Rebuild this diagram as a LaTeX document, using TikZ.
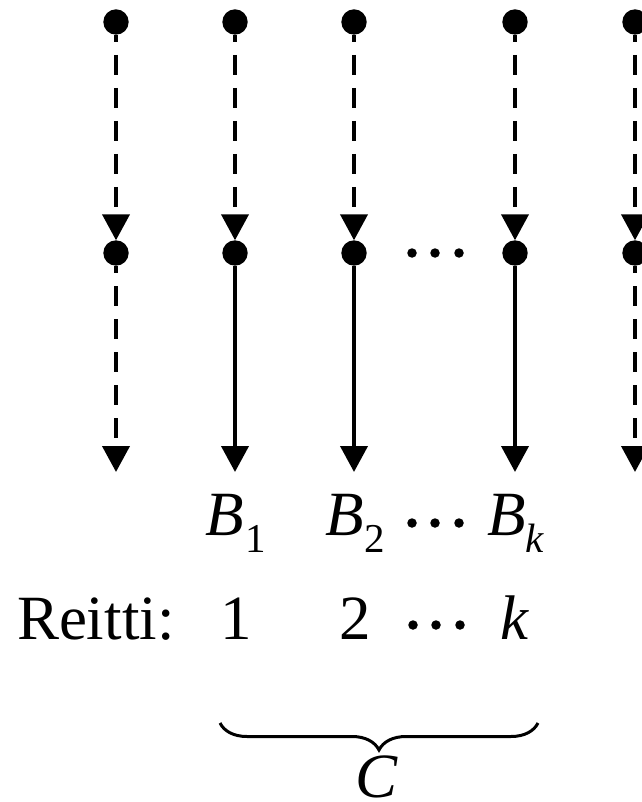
\documentclass[tikz,border=0pt]{standalone}
\usepackage{fontspec}
\setmainfont{Liberation Serif}
\usetikzlibrary{arrows.meta,decorations.pathreplacing}
\begin{document}
\begin{tikzpicture}[x=1pt,y=1pt,
  dot/.style={circle,fill=black,inner sep=0pt,outer sep=0pt,minimum size=25.4pt},
  edot/.style={circle,fill=black,inner sep=0pt,outer sep=0pt,minimum size=9.5pt},
  link/.style={line width=4pt,-{Triangle[width=27pt,length=26pt]}},
  dlink/.style={link,dash pattern=on 20pt off 13pt,dash phase=12.7pt},
  lbl/.style={inner sep=0pt,outer sep=0pt,font=\fontsize{63}{70}\selectfont},
  sublbl/.style={inner sep=0pt,outer sep=0pt,font=\fontsize{41}{44}\selectfont},
  bracestyle/.style={line width=3pt,decorate,decoration={brace,mirror,amplitude=27pt}},
]
\useasboundingbox (0,0) rectangle (641,-802);
% dots
\foreach \n/\x in {1/116,2/235,3/354,4/515,5/635}{
  \node[dot] (t\n) at (\x,-22) {};
  \node[dot] (m\n) at (\x,-253) {};
  \coordinate (b\n) at (\x,-472);
}
% top arrows
\foreach \n in {1,...,5}{ \draw[dlink] (t\n) -- (m\n); }
% bottom arrows
\draw[dlink] (m1) -- (b1);
\draw[link] (m2) -- (b2);
\draw[link] (m3) -- (b3);
\draw[link] (m4) -- (b4);
\draw[dlink] (m5) -- (b5);
% ellipses
\node[edot] (e1) at (412,-253) {};
\node[edot] (e2) at (435,-253) {};
\node[edot] (e3) at (459,-253) {};
% B labels
\node[lbl,anchor=base west] (B1) at (205,-535) {\itshape B};
\node[sublbl,anchor=base west] (s1) at (245,-552) {1};
\node[lbl,anchor=base west] (B2) at (325,-535) {\itshape B};
\node[sublbl,anchor=base west] (s2) at (364,-552) {2};
\node[edot] (f1) at (412,-523) {};
\node[edot] (f2) at (435,-523) {};
\node[edot] (f3) at (459,-523) {};
\node[lbl,anchor=base west] (Bk) at (487,-535) {\itshape B};
\node[sublbl,anchor=base west] (sk) at (525,-552) {\itshape k};
% Reitti row
\node[lbl,anchor=base west] (R) at (17,-639) {Reitti:};
\node[lbl,anchor=base] (r1) at (236,-639) {1};
\node[lbl,anchor=base] (r2) at (355,-639) {2};
\node[edot] (g1) at (413,-625) {};
\node[edot] (g2) at (436,-625) {};
\node[edot] (g3) at (460,-625) {};
\node[lbl,anchor=base] (rk) at (514,-639) {\itshape k};
% brace
\coordinate (bl) at (220,-723);
\coordinate (br) at (538,-723);
\draw[bracestyle] (bl) -- (br);
\node[lbl,anchor=base] (C) at (377,-797) {\itshape C};
\end{tikzpicture}
\end{document}
